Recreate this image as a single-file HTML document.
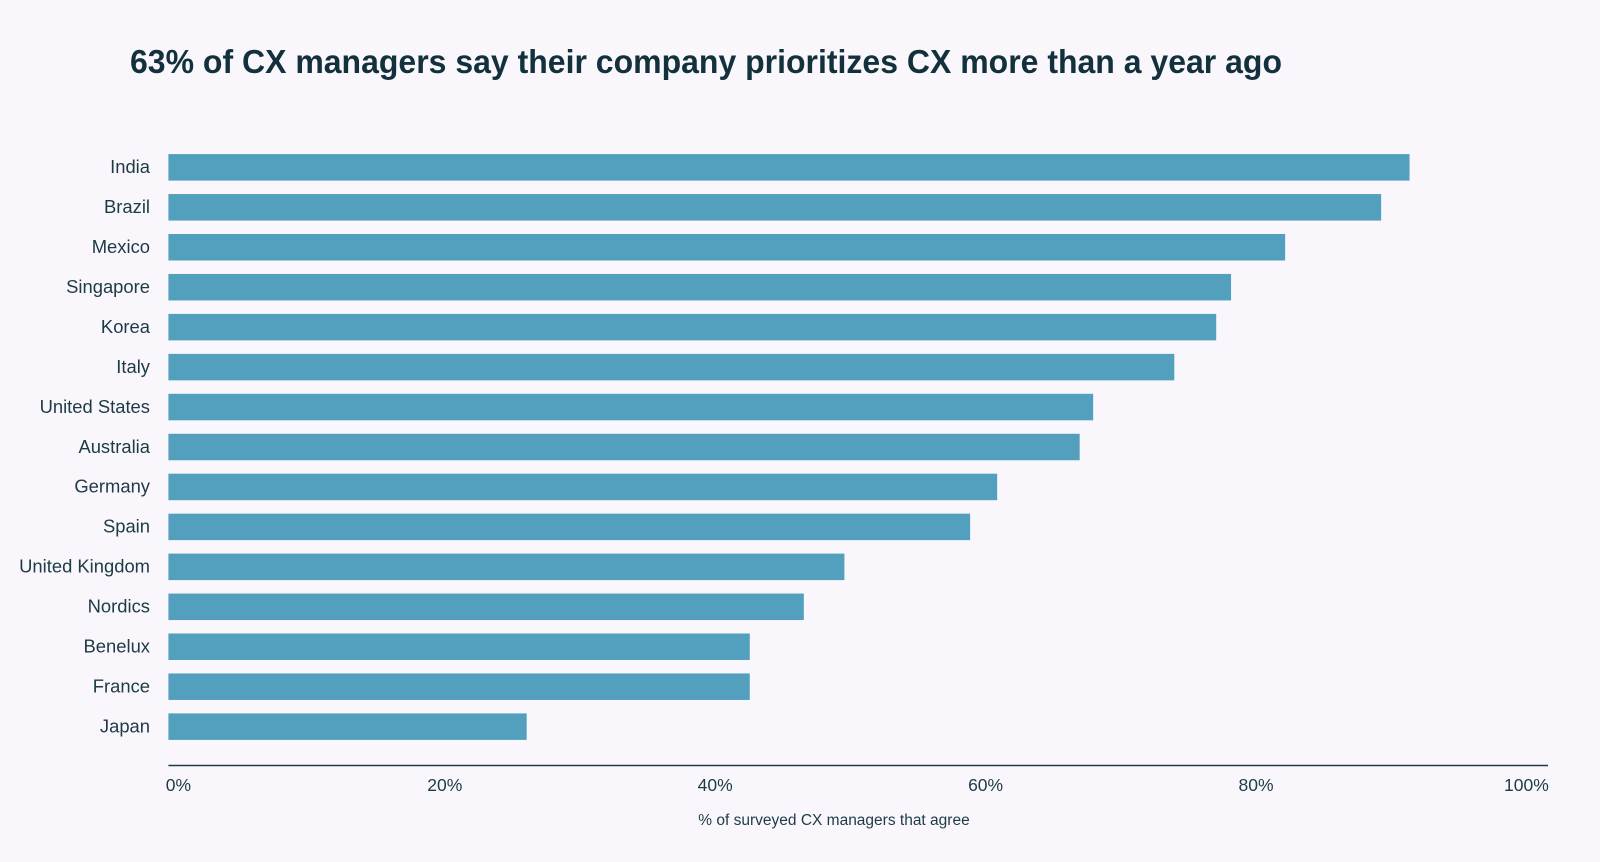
<!DOCTYPE html>
<html><head><meta charset="utf-8"><style>
html,body{margin:0;padding:0;background:#f9f7fb;}
svg{display:block;font-family:"Liberation Sans",sans-serif;}
</style></head><body>
<svg id="chart" width="1600" height="862" viewBox="0 0 1600 862" xmlns="http://www.w3.org/2000/svg">
<rect width="1600" height="862" fill="#f9f7fb"/>
<text x="130" y="73" font-size="33" font-weight="bold" fill="#13313d" textLength="1152" lengthAdjust="spacingAndGlyphs">63% of CX managers say their company prioritizes CX more than a year ago</text>
<g id="bars"></g>
<line x1="168.4" y1="765.5" x2="1548" y2="765.5" stroke="#1d3a46" stroke-width="1.5"/>
<g id="ticks"></g>
<text x="834" y="825" font-size="15.5" fill="#1d3a46" text-anchor="middle">% of surveyed CX managers that agree</text>
</svg>
<script>
const categories = ["India","Brazil","Mexico","Singapore","Korea","Italy","United States","Australia","Germany","Spain","United Kingdom","Nordics","Benelux","France","Japan"];
const values = [91.8,89.7,82.6,78.6,77.5,74.4,68.4,67.4,61.3,59.3,50,47,43,43,26.5];
const tickValues = [0,20,40,60,80,100];
const tickLabels = ["0%","20%","40%","60%","80%","100%"];

const NS="http://www.w3.org/2000/svg";
const x0=168.4, xScale=13.52;
function x(v){return x0+v*xScale;}
function y(i){return 154.1+i*39.95;}
const bars=document.getElementById('bars');
categories.forEach((c,i)=>{
  const r=document.createElementNS(NS,'rect');
  r.setAttribute('x',x0);r.setAttribute('y',y(i));
  r.setAttribute('width',x(values[i])-x0);r.setAttribute('height',26.5);
  r.setAttribute('fill','#52a0bd');
  
  
  bars.appendChild(r);
  const t=document.createElementNS(NS,'text');
  t.setAttribute('x',150);t.setAttribute('y',y(i)+19);
  t.setAttribute('text-anchor','end');t.setAttribute('font-size','18.4');t.setAttribute('fill','#1d3a46');
  t.textContent=c;
  
  
  bars.appendChild(t);
});
const ticks=document.getElementById('ticks');
tickValues.forEach((v,i)=>{
  const t=document.createElementNS(NS,'text');
  t.setAttribute('x',x(v)+(v===0?10:6));t.setAttribute('y',791);
  t.setAttribute('text-anchor','middle');t.setAttribute('font-size','17.5');t.setAttribute('fill','#1d3a46');
  t.textContent=tickLabels[i];
  
  
  ticks.appendChild(t);
});
</script>
</body></html>
